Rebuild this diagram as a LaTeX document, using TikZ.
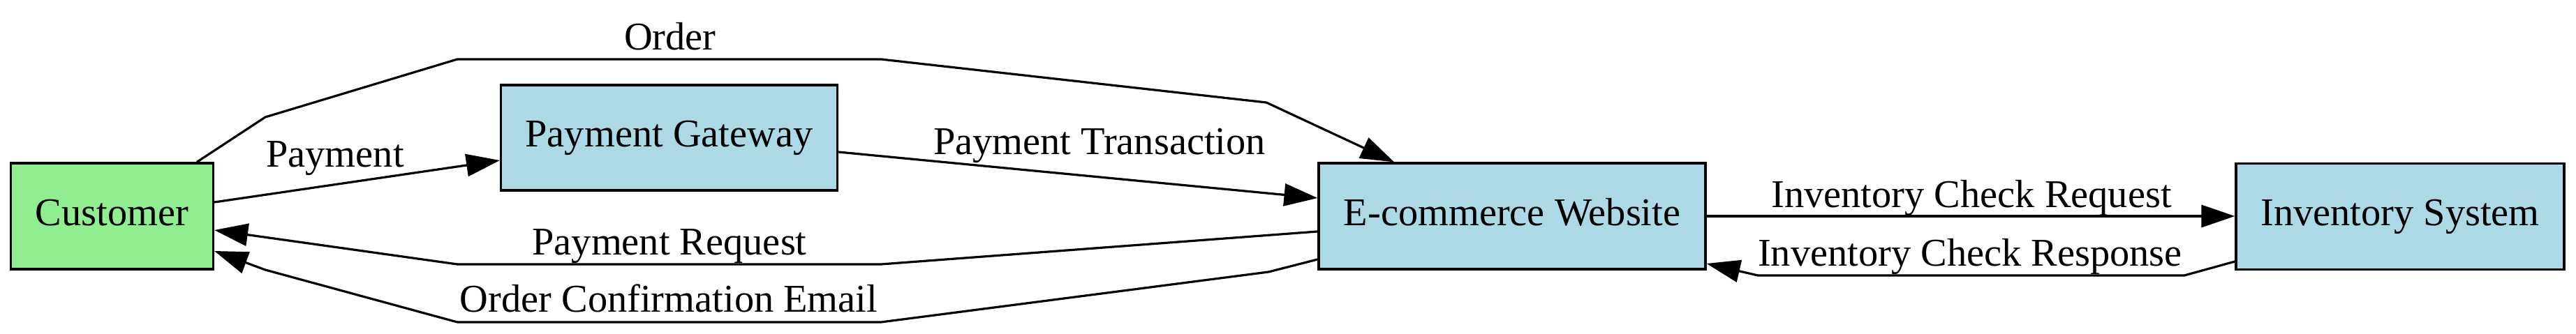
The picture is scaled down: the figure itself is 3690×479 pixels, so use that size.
\documentclass[tikz,border=0pt]{standalone}
\usepackage{fontspec}
\setmainfont{Liberation Serif}
\usetikzlibrary{arrows.meta}
\definecolor{lgreen}{RGB}{144,238,144}
\definecolor{lblue}{RGB}{173,216,230}
\begin{document}
\begin{tikzpicture}[x=0.25pt,y=-0.25pt,
  font=\fontsize{14.1}{17}\selectfont,
  box/.style={draw=black, line width=0.8pt, minimum height=38pt, inner sep=0pt, text height=0.66em, text depth=0pt},
  conn/.style={line width=0.8pt, -{Triangle[length=12pt,width=8pt]}},
  lbl/.style={anchor=base, inner sep=0pt}]
\path[use as bounding box] (0,0) rectangle (3690,479);
% nodes
\node[box, fill=lgreen, minimum width=72.5pt] (cust) at (160.5,310) {Customer};
\node[box, fill=lblue, minimum width=120.5pt, minimum height=37.75pt] (pg) at (958.5,197.5) {Payment Gateway};
\node[box, fill=lblue, minimum width=138.5pt] (ecom) at (2166,310) {E-commerce Website};
\node[box, fill=lblue, minimum width=117.5pt] (inv) at (3438,310.5) {Inventory System};
% connectors
\draw[conn] (cust.north -| 282,0) -- (380,168) -- (655,85) -- (1262,85) -- (1814,147) -- (ecom.north -| 1997,0);
\draw[conn] (cust.east |- 0,290) -- (pg.west |- 0,230);
\draw[conn] (pg.east |- 0,218) -- (ecom.west |- 0,284);
\draw[conn] (ecom.west |- 0,332) -- (1262,379) -- (655,379) -- (cust.east |- 0,330);
\draw[conn] (ecom.west |- 0,372) -- (1817,390) -- (1262,462) -- (655,462) -- (380,387) -- (cust.east |- 0,360);
\draw[conn] (ecom.east |- 0,310) -- (inv.west |- 0,310);
\draw[conn] (inv.west |- 0,375) -- (3129,395) -- (2518,395) -- (ecom.east |- 0,378);
% labels
\node[lbl] (lorder) at (960,72) {Order};
\node[lbl] (lpay) at (480,240) {Payment};
\node[lbl] (ltrans) at (1575,222) {Payment Transaction};
\node[lbl] (lreq) at (959,366) {Payment Request};
\node[lbl] (lmail) at (958,448) {Order Confirmation Email};
\node[lbl] (linvreq) at (2824,298) {Inventory Check Request};
\node[lbl] (linvresp) at (2822,382) {Inventory Check Response};
\end{tikzpicture}
\end{document}
